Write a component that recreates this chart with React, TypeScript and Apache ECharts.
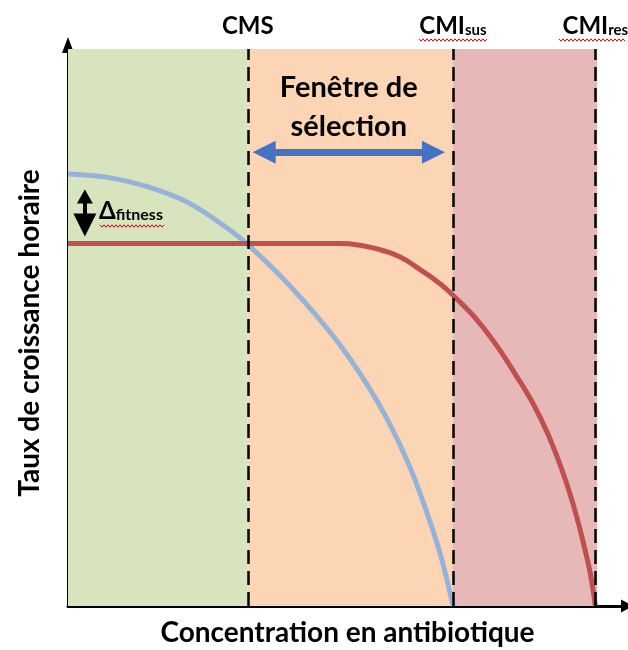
import React, { useEffect, useRef } from "react";
import * as echarts from "echarts";

// ---- data (arbitrary units) ----
const thresholdNames = ["CMS", "CMI|sus", "CMI|res"];
const thresholdValues = [34.1, 73.0, 100];

const susceptibleConc = [0, 7.6, 15.2, 22.8, 30.3, 34.1, 39.8, 45.5, 51.2, 56.9, 60.7, 64.5, 67.3, 70.2, 71.7, 73.0];
const susceptibleGrowth = [77.0, 76.4, 74.7, 71.9, 67.3, 64.4, 59.3, 53.5, 47.0, 39.2, 33.0, 25.5, 18.7, 10.5, 5.3, 0];

const resistantConc = [0, 51.6, 55.4, 59.2, 63.0, 66.7, 69.9, 73.0, 78.7, 85.1, 89.5, 93.3, 96.1, 98.4, 99.2, 100];
const resistantGrowth = [64.6, 64.6, 64.3, 63.5, 62.2, 60.0, 57.9, 55.4, 49.7, 40.9, 33.7, 25.2, 17.1, 8.6, 5.0, 0];

const xTitle = "Concentration en antibiotique";
const yTitle = "Taux de croissance horaire";
const windowLabel = "Fenêtre de\nsélection";

const GREEN = "#D7E4BD";
const ORANGE = "#FCD5B5";
const PINK = "#E6B9B8";
const BLUE_LINE = "#95B3D7";
const RED_LINE = "#C0504D";
const ARROW_BLUE = "#4472C4";
const FONT = 'Lato, "Noto Sans", sans-serif';

function squiggle(x0: number, x1: number, y: number): number[][] {
  const pts: number[][] = [];
  let up = true;
  for (let x = x0; x <= x1; x += 2) {
    pts.push([x, y + (up ? -1.2 : 1.2)]);
    up = !up;
  }
  return pts;
}

export default function App() {
  const ref = useRef<HTMLDivElement>(null);
  useEffect(() => {
    const chart = echarts.init(ref.current!, null, { renderer: "svg" });
    const TOP = 99.3;
    const [cms, cmiSus, cmiRes] = thresholdValues;

    const labelRich = {
      a: { fontFamily: FONT, fontSize: 24, fontWeight: "bold", color: "#000" },
      b: { fontFamily: FONT, fontSize: 15, fontWeight: "bold", color: "#000", verticalAlign: "bottom" },
    };

    const option: any = {
      animation: false,
      grid: { left: 68, right: 1, top: 45, bottom: 40 },
      xAxis: {
        type: "value",
        min: 0,
        max: 106,
        axisLine: { show: true, lineStyle: { color: "#000", width: 3 }, symbol: ["none", "triangle"], symbolSize: [13, 12] },
        axisTick: { show: false },
        axisLabel: { show: false },
        splitLine: { show: false },
        name: xTitle,
        nameLocation: "middle",
        nameGap: 11,
        nameTextStyle: { fontFamily: FONT, fontSize: 28, fontWeight: "bold", color: "#000", verticalAlign: "top" },
      },
      yAxis: {
        type: "value",
        min: 0,
        max: 100,
        axisLine: { show: true, lineStyle: { color: "#000", width: 3 }, symbol: ["none", "triangle"], symbolSize: [12, 16] },
        axisTick: { show: false },
        axisLabel: { show: false },
        splitLine: { show: false },
      },
      series: [
        {
          type: "line",
          name: "background",
          data: [],
          z: 1,
          markArea: {
            silent: true,
            data: [
              [{ xAxis: 0, yAxis: 0, itemStyle: { color: GREEN } }, { xAxis: cms, yAxis: TOP }],
              [{ xAxis: cms, yAxis: 0, itemStyle: { color: ORANGE } }, { xAxis: cmiSus, yAxis: TOP }],
              [{ xAxis: cmiSus, yAxis: 0, itemStyle: { color: PINK } }, { xAxis: cmiRes + 0.35, yAxis: TOP }],
            ],
          },
        },
        {
          type: "line",
          name: "sensible",
          z: 3,
          data: susceptibleConc.map((c, i) => [c, susceptibleGrowth[i]]),
          smooth: 0.3,
          showSymbol: false,
          lineStyle: { color: BLUE_LINE, width: 5 },
          itemStyle: { color: BLUE_LINE },
        },
        {
          type: "line",
          name: "résistant",
          z: 4,
          data: resistantConc.map((c, i) => [c, resistantGrowth[i]]),
          smooth: 0.5,
          showSymbol: false,
          lineStyle: { color: RED_LINE, width: 5 },
          itemStyle: { color: RED_LINE },
        },
        {
          type: "line",
          name: "annotations",
          data: [],
          z: 6,
          markLine: {
            silent: true,
            animation: false,
            data: [
              ...thresholdValues.map((v, i) => {
                const parts = thresholdNames[i].split("|");
                const text = parts.length > 1 ? `{a|${parts[0]}}{b|${parts[1]}}` : `{a|${parts[0]}}`;
                return [
                  {
                    coord: [v, 0],
                    symbol: "none",
                    lineStyle: { color: "#000", width: 2.5, type: [14, 7] },
                    label: { show: true, position: "end", distance: 12, formatter: text, rich: labelRich },
                  },
                  { coord: [v, TOP], symbol: "none" },
                ];
              }),
              [
                {
                  coord: [cms + 3.1, 80.9],
                  lineStyle: { color: ARROW_BLUE, width: 7, type: "solid" },
                  label: {
                    show: true,
                    position: "middle",
                    distance: 8,
                    formatter: windowLabel,
                    fontFamily: FONT,
                    fontSize: 29,
                    lineHeight: 39,
                    fontWeight: "bold",
                    color: "#000",
                  },
                },
                { coord: [cmiSus - 3.7, 80.9] },
              ],
              [
                {
                  coord: [3.2, susceptibleGrowth[0] - 4.0],
                  lineStyle: { color: "#000", width: 4, type: "solid" },
                  symbolSize: [16, 14],
                  label: { show: false },
                },
                { coord: [3.2, resistantGrowth[0] + 3.3] },
              ],
            ],
            symbol: ["triangle", "triangle"],
            symbolSize: [23, 23],
          },
        },
      ],
      graphic: [
        {
          type: "text",
          x: 28,
          y: 333,
          rotation: Math.PI / 2,
          z: 10,
          style: {
            text: yTitle,
            fontFamily: FONT,
            fontSize: 28,
            fontWeight: "bold",
            fill: "#000",
            align: "center",
            verticalAlign: "middle",
          },
        },
        {
          type: "text",
          left: 99,
          top: 197,
          z: 10,
          style: {
            text: "{d|Δ}{f|fitness}",
            rich: {
              d: { fontFamily: FONT, fontSize: 24, fontWeight: "bold", fill: "#000", verticalAlign: "bottom" },
              f: { fontFamily: FONT, fontSize: 16, fontWeight: "bold", fill: "#000", verticalAlign: "bottom" },
            },
          },
        },
        { type: "polyline", z: 10, shape: { points: squiggle(100, 165, 226) }, style: { stroke: "#E00000", lineWidth: 1, fill: "none" } },
        { type: "polyline", z: 10, shape: { points: squiggle(419, 488, 40) }, style: { stroke: "#E00000", lineWidth: 1, fill: "none" } },
        { type: "polyline", z: 10, shape: { points: squiggle(559, 626, 40) }, style: { stroke: "#E00000", lineWidth: 1, fill: "none" } },
      ],
    };
    chart.setOption(option);
    return () => chart.dispose();
  }, []);
  return <div ref={ref} style={{ position: "fixed", left: 0, top: 0, width: 628, height: 650 }} />;
}
